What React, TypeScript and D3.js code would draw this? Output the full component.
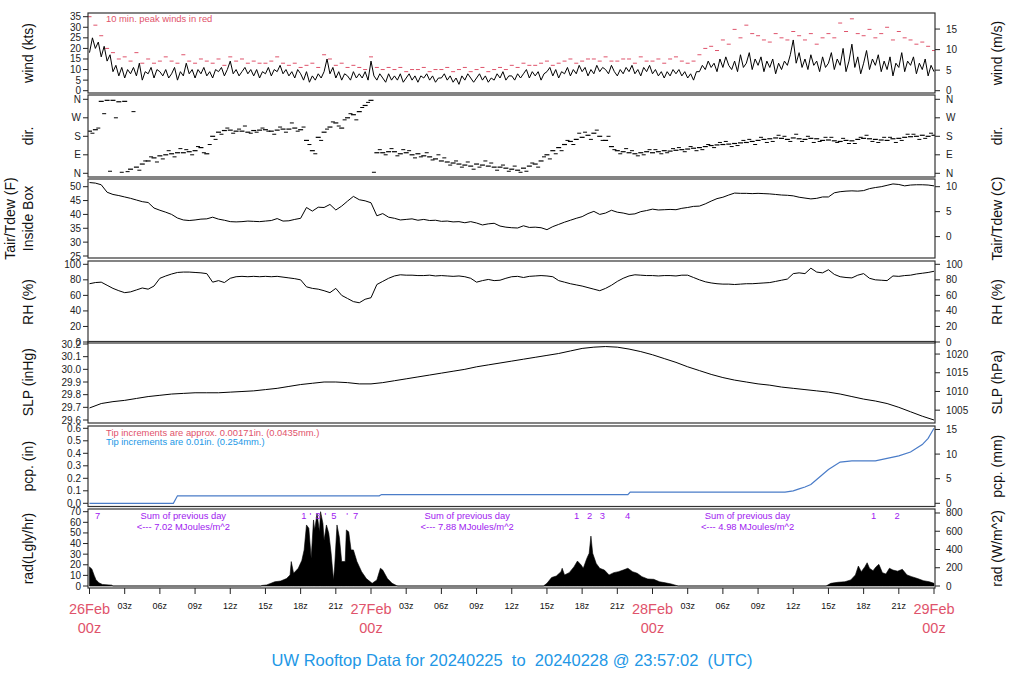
import React from 'react';
import * as d3 from 'd3';

const FONT = '"Liberation Sans", Arial, Helvetica, sans-serif';
const RED = '#DF536B';
const BLUE = '#2297E6';
const PURPLE = '#A020F0';
const PCP_BLUE = '#4A7CC8';

// ---------- DATA (time axis: hours since 26Feb 00z) ----------
// wind speed (kts), every 15 min
const windKts = [
  [18, 25, 20, 23], [16, 21, 14, 17], [9, 12, 7, 11], [6, 10, 8, 11], [7, 13, 5, 9],
  [8, 11, 6, 10], [9, 7, 10, 6], [8, 11, 5, 9], [7, 13, 8, 10], [6, 10, 8, 11],
  [7, 9, 6, 10], [9, 11, 7, 10], [14, 8, 10, 7], [9, 11, 8, 10], [7, 10, 6, 9],
  [8, 11, 7, 10], [9, 12, 8, 10], [7, 9, 6, 10], [8, 5, 9, 4], [7, 5, 8, 6],
  [9, 15, 8, 11], [6, 9, 5, 8], [7, 5, 9, 6], [8, 6, 9, 5], [14, 7, 5, 8],
  [6, 4, 8, 5], [7, 5, 8, 4], [6, 8, 5, 7], [4, 7, 6, 8], [5, 7, 4, 6],
  [6, 8, 5, 7], [4, 6, 3, 7], [5, 8, 6, 4], [6, 8, 5, 7], [4, 6, 5, 8],
  [6, 9, 5, 7], [7, 5, 8, 6], [8, 10, 6, 9], [7, 9, 5, 8], [9, 11, 7, 10],
  [6, 9, 8, 11], [7, 10, 8, 12], [9, 11, 7, 10], [8, 12, 9, 11], [10, 8, 12, 9],
  [7, 10, 8, 11], [9, 12, 8, 10], [7, 11, 9, 12], [8, 10, 7, 9], [6, 9, 7, 10],
  [8, 10, 7, 9], [6, 8, 5, 9], [9, 12, 10, 14], [11, 13, 9, 15], [11, 16, 12, 10],
  [14, 9, 17, 11], [13, 18, 10, 15], [12, 16, 9, 14], [11, 15, 8, 13], [10, 14, 12, 17],
  [24, 13, 18, 11], [15, 10, 17, 12], [14, 9, 16, 11], [13, 18, 10, 15], [12, 20, 9, 14],
  [22, 11, 16, 8], [13, 19, 10, 15], [12, 17, 9, 14], [10, 16, 7, 13], [11, 18, 9, 14],
  [12, 16, 8, 13], [10, 15, 7, 12], [9],
].flat();

// 10-min peak winds (kts), every 30 min
const peakKts = [
  [35, 31], [26, 20], [18, 15], [16, 14], [18, 13], [15, 13], [14, 16], [14, 13],
  [17, 14], [13, 15], [14, 13], [15, 12], [16, 14], [15, 13], [14, 13], [13, 14],
  [16, 13], [12, 13], [11, 12], [13, 11], [17, 15], [12, 13], [11, 12], [11, 10],
  [16, 11], [10, 11], [10, 11], [9, 10], [10, 11], [9, 10], [10, 11], [9, 10],
  [11, 9], [10, 11], [9, 10], [11, 10], [12, 11], [13, 12], [12, 13], [14, 12],
  [13, 14], [15, 13], [14, 15], [15, 14], [16, 14], [14, 15], [15, 13], [16, 14],
  [14, 15], [13, 15], [16, 14], [13, 14], [17, 20], [21, 19], [24, 22], [29, 25],
  [31, 27], [26, 24], [23, 27], [25, 24], [28, 26], [24, 27], [22, 25], [27, 25],
  [32, 28], [34, 27], [26, 29], [25, 27], [30, 24], [28, 25], [24, 22], [23, 21], [19],
].flat();

// wind direction (deg), every 30 min: main reading and scattered reading
const dirMain = [
  [205, 212], [350, 355], [355, 348], [350, 20], [30, 45], [60, 75], [85, 90], [95, 100],
  [100, 105], [110, 125], [95, 180], [200, 208], [210, 205], [205, 200], [208, 210], [212, 205],
  [210, 215], [215, 220], [212, 160], [110, 175], [200, 225], [245, 220], [270, 285], [300, 330],
  [355, 100], [100, 105], [105, 95], [100, 90], [95, 85], [80, 70], [60, 55], [50, 45],
  [40, 35], [45, 40], [35, 30], [30, 25], [20, 15], [25, 35], [45, 60], [90, 110],
  [125, 140], [155, 165], [175, 185], [195, 180], [160, 130], [110, 105], [100, 95], [100, 105],
  [100, 105], [110, 108], [112, 115], [118, 122], [125, 130], [135, 138], [140, 142], [145, 148],
  [150, 155], [160, 165], [168, 172], [170, 165], [172, 168], [165, 170], [168, 160], [162, 158],
  [155, 160], [158, 165], [170, 168], [165, 162], [160, 168], [170, 175], [178, 180], [185, 180], [185],
].flat();
const dirScatter = [
  [195, 220], [290, 10], [270, 5], [8, 300], [15, 60], [80, 55], [70, 110], [80, 120],
  [115, 90], [130, 100], [140, 165], [190, 220], [195, 215], [230, 195], [200, 220], [205, 190],
  [225, 200], [245, 205], [225, 140], [95, 160], [215, 250], [230, 260], [290, 260], [320, 345],
  [5, 115], [90, 120], [85, 115], [110, 75], [80, 100], [65, 90], [75, 40], [60, 30],
  [55, 20], [30, 60], [50, 15], [40, 10], [35, 5], [10, 50], [30, 80], [70, 95],
  [110, 160], [140, 195], [200, 165], [210, 160], [180, 115], [95, 120], [110, 85], [90, 115],
  [115, 95], [100, 120], [125, 105], [130, 110], [115, 140], [125, 150], [155, 130], [135, 160],
  [165, 140], [175, 150], [155, 185], [180, 155], [190, 155], [180, 150], [155, 175], [175, 150],
  [170, 145], [145, 175], [185, 155], [150, 175], [175, 150], [160, 190], [190, 165], [170, 195], [175],
].flat();

// air temperature inside box (F), every 30 min
const tempF = [
  [51.5, 51.3], [50.7, 48.0], [47.2, 46.8], [46.3, 45.8], [45.2, 44.6], [44.3, 42.3], [41.5, 40.8], [40.0, 38.7],
  [38.0, 37.8], [38.0, 38.3], [38.4, 39.0], [38.3, 37.9], [37.4, 37.3], [37.4, 37.6], [37.5, 37.4], [37.6, 37.8],
  [38.5, 37.6], [37.7, 38.2], [38.6, 42.5], [41.2, 42.6], [42.5, 43.6], [41.6, 43.0], [44.8, 46.5], [45.3, 44.9],
  [44.2, 39.5], [40.3, 39.0], [38.6, 38.0], [38.2, 38.4], [37.9, 38.2], [37.8, 37.9], [37.5, 37.6], [37.3, 37.4],
  [37.0, 37.4], [36.9, 36.2], [36.6, 36.8], [35.8, 35.4], [35.2, 35.1], [35.9, 35.3], [35.4, 35.2], [34.5, 35.6],
  [36.4, 37.2], [37.9, 38.6], [39.2, 40.3], [41.1, 40.0], [40.5, 41.5], [40.8, 40.5], [40.0, 40.2], [41.0, 41.4],
  [41.9, 41.6], [41.7, 41.8], [41.7, 42.2], [42.5, 42.9], [43.0, 43.8], [44.8, 45.7], [46.2, 47.0], [47.7, 47.6],
  [47.6, 47.5], [47.6, 47.5], [47.4, 47.2], [47.0, 46.9], [46.7, 46.2], [45.9, 45.6], [45.8, 46.3], [46.3, 47.8],
  [48.2, 48.4], [48.5, 48.4], [48.6, 49.3], [49.7, 50.0], [50.5, 51.0], [50.8, 50.3], [50.6, 50.7], [50.7, 50.6], [50.3],
].flat();

// relative humidity (%), every 30 min
const rhPct = [
  [75, 76.5], [77, 73], [69, 66], [63.5, 64.5], [67, 69.5], [68, 72], [82, 85], [87.5, 89.5],
  [90, 90], [89.5, 89], [88, 77], [79, 76.5], [82, 84], [84.5, 84], [84.5, 84], [84.5, 84],
  [84.5, 83.5], [82.5, 81.5], [80, 71], [69, 68], [66, 63.5], [69, 60], [56, 52], [50.5, 55],
  [57, 74], [78, 82], [85, 86.5], [86, 86], [85.5, 85.5], [86, 85], [85.5, 85], [84.5, 85],
  [84, 82], [77, 79], [80.5, 79], [79.5, 82], [84, 84.5], [83, 84.5], [85, 85.5], [85, 84],
  [79, 77], [75, 73.5], [72, 70], [68, 66], [69, 73], [78, 82], [85, 86.5], [86, 85.5],
  [85.5, 85], [85.5, 85.5], [85, 86], [86, 83], [80, 77.5], [76, 75], [74.5, 74.5], [74, 74.5],
  [75, 75], [75.5, 76], [76.5, 78], [79.5, 81], [88, 89], [88, 95], [90, 89], [93, 87],
  [84, 83], [82.5, 86], [88, 82], [80, 79.5], [79, 85], [84.5, 85.5], [86, 87.5], [88.5, 89.5], [91],
].flat();

// sea level pressure (inHg), hourly
const slpInHg = [
  29.695, 29.73, 29.745, 29.755, 29.77, 29.785, 29.795, 29.805, 29.81, 29.815, 29.815, 29.815,
  29.82, 29.825, 29.83, 29.84, 29.85, 29.865, 29.88, 29.89, 29.9, 29.9, 29.895, 29.885,
  29.885, 29.895, 29.91, 29.925, 29.94, 29.955, 29.97, 29.985, 30.0, 30.02, 30.035, 30.05,
  30.065, 30.08, 30.095, 30.11, 30.125, 30.145, 30.165, 30.175, 30.18, 30.175, 30.16, 30.14,
  30.115, 30.085, 30.055, 30.02, 29.99, 29.96, 29.935, 29.915, 29.9, 29.885, 29.875, 29.86,
  29.85, 29.84, 29.83, 29.82, 29.805, 29.785, 29.765, 29.75, 29.73, 29.7, 29.665, 29.63, 29.6,
];

// accumulated precipitation (in)
const pcpHours = [0, 7.15, 7.5, 24.7, 24.9, 45.9, 46.1, 59.3, 60, 60.5, 61, 61.5, 62, 62.5, 63, 63.5, 64, 65, 66, 67, 68, 69, 70, 70.5, 71, 71.5, 72];
const pcpIn = [0, 0, 0.06, 0.06, 0.07, 0.07, 0.09, 0.09, 0.1, 0.115, 0.13, 0.15, 0.19, 0.23, 0.27, 0.3, 0.33, 0.34, 0.34, 0.34, 0.36, 0.38, 0.41, 0.44, 0.47, 0.52, 0.6];

// solar radiation (Langley/hr)
const radHours = [
  0, 0.2, 0.4, 0.55, 0.8, 1.1, 1.9, 2.0,
  14.6, 14.7, 15.1, 15.8, 16.3, 16.8, 17.1, 17.2, 17.4, 17.8, 18.1, 18.3, 18.5, 18.7, 18.9, 19.1, 19.2,
  19.4, 19.6, 19.7, 19.9, 20.0, 20.2, 20.4, 20.6, 20.8, 20.9, 21.1, 21.3, 21.5, 21.8, 21.9, 22.1, 22.3,
  22.5, 22.8, 23.2, 23.6, 24.1, 24.5, 24.8, 25.0, 25.4, 25.8, 26.2, 26.3,
  38.7, 39.0, 39.4, 39.8, 40.2, 40.3, 40.5, 40.9, 41.3, 41.6, 41.9, 42.1, 42.4, 42.6, 42.75, 42.9, 43.2,
  43.5, 43.9, 44.3, 44.7, 45.1, 45.5, 45.9, 46.3, 46.7, 47.1, 47.6, 48.1, 48.6, 49.1, 49.6, 50.1, 50.2,
  62.8, 63.2, 63.8, 64.4, 64.9, 65.3, 65.55, 65.8, 66.1, 66.3, 66.5, 66.8, 67.05, 67.3, 67.6, 67.9, 68.2,
  68.5, 68.9, 69.3, 69.7, 70.1, 70.6, 71.1, 71.6, 72,
];
const radLy = [
  18, 16, 10, 6, 3, 1.5, 0.8, 0,
  0, 0.5, 1, 4, 4.7, 7, 10.4, 23, 12, 16.7, 24, 34, 57.5, 54.4, 26, 62.2, 52.8,
  68.5, 51, 70, 59, 43, 57.5, 49.6, 30.8, 5.7, 18, 57.5, 46, 23, 23, 52.8, 51, 34,
  34, 23, 13.5, 7, 2.5, 5.7, 16.7, 15, 7, 2.5, 0.3, 0,
  0, 2.5, 8, 9.4, 13.5, 16.7, 10.4, 12.6, 18, 23.5, 20, 16.7, 26, 30.8, 47, 30.8, 21.3,
  16.7, 15, 10.4, 12.6, 13.5, 15, 16.7, 13.5, 12, 8.8, 6.6, 6.3, 4, 3, 1.9, 0.3, 0,
  0, 2.5, 3.5, 4, 5.7, 10.4, 18.8, 13.5, 18, 21.9, 16.7, 14.4, 18, 20.4, 12.6, 11.3, 16.7,
  15, 14, 15.7, 10.4, 8.8, 7, 5, 4, 2.5,
];

// annotations in radiation panel
const radMarkHours = [0.7, 18.27, 18.84, 19.46, 20.12, 20.83, 21.97, 22.68, 41.52, 42.63, 43.73, 45.87, 66.86, 68.86];
const radMarkLabels = ['7', '1', "'", '3', "'", '5', "'", '7', '1', '2', '3', '4', '1', '2'];
const sumHours = [8.0, 32.2, 56.1];
const sumValues = ['7.02', '7.88', '4.98'];

// axis ticks
const windTicks = [0, 5, 10, 15, 20, 25, 30, 35];
const windMsTicks = [0, 5, 10, 15];
const dirTicks = [0, 90, 180, 270, 360];
const dirLabels = ['N', 'E', 'S', 'W', 'N'];
const tempFTicks = [25, 30, 35, 40, 45, 50];
const tempCTicks = [0, 5, 10];
const rhTicks = [0, 20, 40, 60, 80, 100];
const slpTicks = [29.6, 29.7, 29.8, 29.9, 30.0, 30.1, 30.2];
const hpaTicks = [1005, 1010, 1015, 1020];
const pcpTicks = [0, 0.1, 0.2, 0.3, 0.4, 0.5, 0.6];
const mmTicks = [0, 5, 10, 15];
const radTicks = [0, 10, 20, 30, 40, 50, 60, 70];
const wm2Ticks = [0, 200, 400, 600, 800];
const dayLabels = ['26Feb', '27Feb', '28Feb', '29Feb'];

// ---------- LAYOUT ----------
const BX0 = 88, BX1 = 935;

export default function App() {
  const x = d3.scaleLinear().domain([0, 72]).range([89.5, 934]);

  const yWind = d3.scaleLinear().domain([0, 35]).range([90.7, 16.7]);
  const yDir = d3.scaleLinear().domain([0, 360]).range([173.3, 99.3]);
  const yTemp = d3.scaleLinear().domain([25, 50]).range([256, 186.7]);
  const yRh = d3.scaleLinear().domain([0, 100]).range([342, 264.3]);
  const ySlp = d3.scaleLinear().domain([29.6, 30.2]).range([420, 344]);
  const yPcp = d3.scaleLinear().domain([0, 0.6]).range([503.3, 428.3]);
  const yRad = d3.scaleLinear().domain([0, 70]).range([586, 511.7]);

  const boxes = [
    { id: 'p1', top: 13, bottom: 93 },
    { id: 'p2', top: 95, bottom: 177 },
    { id: 'p3', top: 179, bottom: 258 },
    { id: 'p4', top: 261, bottom: 343 },
    { id: 'p5', top: 341.5, bottom: 423 },
    { id: 'p6', top: 426, bottom: 506.5 },
    { id: 'p7', top: 509, bottom: 588 },
  ];

  const windLine = d3.line<number>().x((d, i) => x(i * 0.25)).y(d => yWind(d));
  const tempLine = d3.line<number>().x((d, i) => x(i * 0.5)).y(d => yTemp(d));
  const rhLine = d3.line<number>().x((d, i) => x(i * 0.5)).y(d => yRh(d));
  const slpLine = d3.line<number>().x((d, i) => x(i)).y(d => ySlp(d));
  const pcpLine = d3.line<number>().x((d, i) => x(pcpHours[i])).y(d => yPcp(d));
  const radArea = d3.area<number>().x((d, i) => x(radHours[i])).y0(yRad(0)).y1(d => yRad(d));

  const leftAxis = (scale: any, ticks: number[], fmt: (v: number) => string, key: string) => (
    <g key={key}>
      {ticks.map((t, i) => (
        <g key={i}>
          <line x1={83} x2={BX0} y1={scale(t)} y2={scale(t)} stroke="#222" strokeWidth={1} />
          <text x={81} y={scale(t)} textAnchor="end" dominantBaseline="central" fontSize={10} fill="#222">{fmt(t)}</text>
        </g>
      ))}
    </g>
  );
  const rightAxis = (pos: number[], labels: string[], key: string) => (
    <g key={key}>
      {pos.map((p, i) => (
        <g key={i}>
          <line x1={BX1} x2={940} y1={p} y2={p} stroke="#222" strokeWidth={1} />
          <text x={946} y={p} textAnchor="start" dominantBaseline="central" fontSize={10} fill="#222">{labels[i]}</text>
        </g>
      ))}
    </g>
  );
  const vTitle = (tx: number, ty: number, s: string, key: string) => (
    <text key={key} transform={`translate(${tx},${ty}) rotate(-90)`} textAnchor="middle" dominantBaseline="central" fontSize={14} fill="#111">{s}</text>
  );
  const mid = (b: { top: number; bottom: number }) => (b.top + b.bottom) / 2;

  const hourTicks = d3.range(0, 73, 3);

  return (
    <svg width={1024} height={700} style={{ position: 'absolute', left: 0, top: 0, background: '#fff' }} fontFamily={FONT}>
      <rect x={0} y={0} width={1024} height={700} fill="#fff" />
      <defs>
        {boxes.map(b => (
          <clipPath id={`clip-${b.id}`} key={b.id}>
            <rect x={BX0} y={b.top} width={BX1 - BX0} height={b.bottom - b.top} />
          </clipPath>
        ))}
      </defs>

      {/* Panel 1: wind */}
      <g clipPath="url(#clip-p1)">
        {peakKts.map((v, i) => (
          <line key={i} x1={x(i * 0.5) - 2} x2={x(i * 0.5) + 2} y1={yWind(v)} y2={yWind(v)} stroke={RED} strokeWidth={1} />
        ))}
        <path d={windLine(windKts) || ''} fill="none" stroke="#000" strokeWidth={1} />
      </g>
      <text x={106} y={22} fontSize={9.4} fill={RED}>10 min. peak winds in red</text>

      {/* Panel 2: direction */}
      <g clipPath="url(#clip-p2)">
        {dirMain.map((v, i) => (
          <line key={'m' + i} x1={x(i * 0.5) - 2.5} x2={x(i * 0.5) + 2.5} y1={yDir(v)} y2={yDir(v)} stroke="#000" strokeWidth={1.2} />
        ))}
        {dirScatter.map((v, i) => (
          <line key={'s' + i} x1={x(i * 0.5 + 0.25) - 2} x2={x(i * 0.5 + 0.25) + 2} y1={yDir(v)} y2={yDir(v)} stroke="#000" strokeWidth={1} />
        ))}
      </g>

      {/* Panel 3: temperature */}
      <g clipPath="url(#clip-p3)">
        <path d={tempLine(tempF) || ''} fill="none" stroke="#000" strokeWidth={1} />
      </g>

      {/* Panel 4: RH */}
      <g clipPath="url(#clip-p4)">
        <path d={rhLine(rhPct) || ''} fill="none" stroke="#000" strokeWidth={1} />
      </g>

      {/* Panel 5: SLP */}
      <g clipPath="url(#clip-p5)">
        <path d={slpLine(slpInHg) || ''} fill="none" stroke="#000" strokeWidth={1} />
      </g>

      {/* Panel 6: precipitation */}
      <g clipPath="url(#clip-p6)">
        <path d={pcpLine(pcpIn) || ''} fill="none" stroke={PCP_BLUE} strokeWidth={1.2} />
      </g>
      <text x={106} y={436} fontSize={9.4} fill={RED}>Tip increments are approx. 0.00171in. (0.0435mm.)</text>
      <text x={106} y={444.5} fontSize={9.4} fill={BLUE}>Tip increments are 0.01in. (0.254mm.)</text>

      {/* Panel 7: radiation */}
      <g clipPath="url(#clip-p7)">
        <path d={radArea(radLy) || ''} fill="#000" stroke="#000" strokeWidth={0.6} />
      </g>
      {radMarkHours.map((h, i) => (
        <text key={i} x={x(h)} y={519} textAnchor="middle" fontSize={9.4} fill={PURPLE}>{radMarkLabels[i]}</text>
      ))}
      {sumHours.map((h, i) => (
        <g key={i}>
          <text x={x(h)} y={519} textAnchor="middle" fontSize={9.4} fill={PURPLE}>Sum of previous day</text>
          <text x={x(h)} y={529.5} textAnchor="middle" fontSize={9.4} fill={PURPLE}>{`<--- ${sumValues[i]} MJoules/m^2`}</text>
        </g>
      ))}

      {/* panel boxes */}
      {boxes.map(b => (
        <rect key={b.id} x={BX0} y={b.top} width={BX1 - BX0} height={b.bottom - b.top} fill="none" stroke="#333" strokeWidth={1.2} />
      ))}

      {/* left axes */}
      {leftAxis(yWind, windTicks, v => String(v), 'la1')}
      {leftAxis(yDir, dirTicks, v => dirLabels[dirTicks.indexOf(v)], 'la2')}
      {leftAxis(yTemp, tempFTicks, v => String(v), 'la3')}
      {leftAxis(yRh, rhTicks, v => String(v), 'la4')}
      {leftAxis(ySlp, slpTicks, v => v.toFixed(1), 'la5')}
      {leftAxis(yPcp, pcpTicks, v => v.toFixed(1), 'la6')}
      {leftAxis(yRad, radTicks, v => String(v), 'la7')}

      {/* right axes */}
      {rightAxis(windMsTicks.map(m => yWind(m * 1.94384)), windMsTicks.map(String), 'ra1')}
      {rightAxis(dirTicks.map(d => yDir(d)), dirLabels, 'ra2')}
      {rightAxis(tempCTicks.map(c => yTemp(c * 9 / 5 + 32)), tempCTicks.map(String), 'ra3')}
      {rightAxis(rhTicks.map(r => yRh(r)), rhTicks.map(String), 'ra4')}
      {rightAxis(hpaTicks.map(p => ySlp(p / 33.8639)), hpaTicks.map(String), 'ra5')}
      {rightAxis(mmTicks.map(m => yPcp(m / 25.4)), mmTicks.map(String), 'ra6')}
      {rightAxis(wm2Ticks.map(w => yRad(w / 11.63)), wm2Ticks.map(String), 'ra7')}

      {/* left titles */}
      {vTitle(28, mid(boxes[0]), 'wind (kts)', 'lt1')}
      {vTitle(28, mid(boxes[1]), 'dir.', 'lt2')}
      {vTitle(10, mid(boxes[2]), 'Tair/Tdew (F)', 'lt3a')}
      {vTitle(28, mid(boxes[2]), 'Inside Box', 'lt3b')}
      {vTitle(28, mid(boxes[3]), 'RH (%)', 'lt4')}
      {vTitle(28, mid(boxes[4]), 'SLP (inHg)', 'lt5')}
      {vTitle(28, mid(boxes[5]), 'pcp. (in)', 'lt6')}
      {vTitle(28, mid(boxes[6]), 'rad(Lgly/hr)', 'lt7')}

      {/* right titles */}
      {vTitle(997, mid(boxes[0]), 'wind (m/s)', 'rt1')}
      {vTitle(997, mid(boxes[1]), 'dir.', 'rt2')}
      {vTitle(997, mid(boxes[2]), 'Tair/Tdew (C)', 'rt3')}
      {vTitle(997, mid(boxes[3]), 'RH (%)', 'rt4')}
      {vTitle(997, mid(boxes[4]), 'SLP (hPa)', 'rt5')}
      {vTitle(997, mid(boxes[5]), 'pcp. (mm)', 'rt6')}
      {vTitle(997, mid(boxes[6]), 'rad (W/m^2)', 'rt7')}

      {/* bottom time axis */}
      {hourTicks.map(h => (
        <g key={h}>
          <line x1={x(h)} x2={x(h)} y1={588} y2={594} stroke="#222" strokeWidth={1} />
          {h % 24 !== 0 && (
            <text x={x(h)} y={606} textAnchor="middle" dominantBaseline="central" fontSize={9} fill="#111">
              {`${String(h % 24).padStart(2, '0')}z`}
            </text>
          )}
        </g>
      ))}
      {dayLabels.map((d, i) => (
        <g key={d}>
          <text x={x(i * 24)} y={614} textAnchor="middle" fontSize={14.5} fill={RED}>{d}</text>
          <text x={x(i * 24)} y={633} textAnchor="middle" fontSize={14.5} fill={RED}>00z</text>
        </g>
      ))}

      {/* title */}
      <text x={512} y={660} textAnchor="middle" dominantBaseline="central" fontSize={16.5} fill={BLUE} style={{ whiteSpace: 'pre' }}>
        {'UW Rooftop Data for 20240225  to  20240228 @ 23:57:02  (UTC)'}
      </text>
    </svg>
  );
}
